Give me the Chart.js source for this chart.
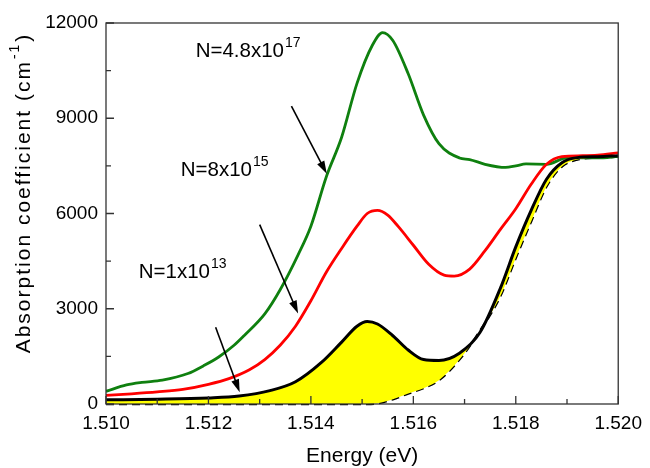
<!DOCTYPE html>
<html>
<head>
<meta charset="utf-8">
<script src="https://cdn.jsdelivr.net/npm/chart.js@4/dist/chart.umd.min.js"></script>
<style>
html,body{margin:0;padding:0;background:#fff}
#wrap{width:650px;height:468px}
</style>
</head>
<body>
<div id="wrap"><canvas id="absChart" width="650" height="468"></canvas></div>
<script>
// values
const energyBlack = [1.5100,1.5110,1.5120,1.5126,1.5132,1.5137,1.5142,1.5146,1.5149,1.5151,1.5153,1.5156,1.5159,1.5162,1.5165,1.5169,1.5173,1.5177,1.5180,1.5183,1.5186,1.5189,1.5192,1.5196,1.5200]
const absBlack = [130,150,190,250,420,700,1300,1950,2450,2600,2520,2150,1700,1400,1370,1600,2250,3650,4950,6100,7080,7600,7760,7790,7820]
const absBaseline = [0,0,0,0,0,0,0,0,0,0,20,150,330,500,750,1400,2300,3400,4600,5750,6850,7480,7700,7760,7790]

const energyRed = [1.5100,1.5105,1.5110,1.5115,1.5120,1.5124,1.5128,1.5131,1.5134,1.5137,1.5140,1.5143,1.5146,1.5149,1.5151,1.5153,1.5155,1.5157,1.5160,1.5163,1.5166,1.5168,1.5171,1.5174,1.5177,1.5180,1.5183,1.5186,1.5189,1.5193,1.5196,1.5200]
const absRed = [270,320,380,460,620,800,1080,1400,1850,2450,3250,4150,4900,5600,6000,6100,5950,5600,5000,4400,4060,4030,4250,4830,5500,6150,6920,7550,7790,7820,7840,7910]

const energyGreen = [1.5100,1.5104,1.5107,1.5111,1.5116,1.5119,1.5122,1.5125,1.5127,1.5131,1.5134,1.51375,1.5140,1.5143,1.5146,1.5149,1.5152,1.5154,1.5156,1.5159,1.5162,1.5165,1.5169,1.5171,1.5174,1.5178,1.5180,1.5182,1.5186,1.5190,1.5196,1.5200]
const absGreen = [400,600,680,750,960,1200,1480,1850,2160,2840,3600,4700,5600,7150,8400,10100,11300,11700,11450,10400,9100,8200,7750,7700,7550,7450,7500,7560,7550,7750,7750,7800]

const xTickValues = [1.510,1.512,1.514,1.516,1.518,1.520]
const yTickValues = [0,3000,6000,9000,12000]

// labels: text, exponent, left x / baseline y in data units
const labelTexts = ['N=4.8x10','N=8x10','N=1x10']
const labelExps = ['17','15','13']
const labelAt = [[1.51175,10930],[1.51146,7180],[1.51064,3960]]
// arrows: [x0,y0,x1,y1] in data units
const arrowAt = [
  [1.51362,9380,1.51431,7250],
  [1.51300,5650,1.51375,2850],
  [1.51214,2420,1.51261,370]
]

const FONT = '"Liberation Sans", Arial, sans-serif'

function pts(xs, ys){
  return xs.map((x,i)=>({x:x, y:ys[i]}))
}

function supText(ctx, x, y, base, sup, size){
  ctx.font = size + 'px ' + FONT
  ctx.fillText(base, x, y)
  const w = ctx.measureText(base).width
  ctx.font = Math.round(size*0.66) + 'px ' + FONT
  ctx.fillText(sup, x + w + 1, y - size*0.5)
}

const decor = {
  id:'decor',
  afterDatasetsDraw(chart){
    const ctx = chart.ctx
    const a = chart.chartArea
    const sx = chart.scales.x
    const sy = chart.scales.y
    ctx.save()

    // frame
    ctx.strokeStyle = '#333'
    ctx.lineWidth = 1.3
    ctx.strokeRect(a.left, a.top, a.right-a.left, a.bottom-a.top)

    // inward ticks, major + minor
    ctx.beginPath()
    for(let k=0;k<=10;k++){
      const px = sx.getPixelForValue(1.510 + k*0.001)
      const len = k%2===0 ? 8 : 5
      ctx.moveTo(px, a.bottom)
      ctx.lineTo(px, a.bottom-len)
    }
    for(let k=0;k<=8;k++){
      const py = sy.getPixelForValue(k*1500)
      const len = k%2===0 ? 8 : 5
      ctx.moveTo(a.left, py)
      ctx.lineTo(a.left+len, py)
    }
    ctx.stroke()

    // arrows
    ctx.strokeStyle = '#000'
    ctx.fillStyle = '#000'
    ctx.lineWidth = 1.6
    arrowAt.forEach(r=>{
      const x0 = sx.getPixelForValue(r[0]), y0 = sy.getPixelForValue(r[1])
      const x1 = sx.getPixelForValue(r[2]), y1 = sy.getPixelForValue(r[3])
      const ang = Math.atan2(y1-y0, x1-x0)
      const hl = 13, hw = 4
      ctx.beginPath()
      ctx.moveTo(x0,y0)
      ctx.lineTo(x1 - Math.cos(ang)*hl*0.8, y1 - Math.sin(ang)*hl*0.8)
      ctx.stroke()
      ctx.beginPath()
      ctx.moveTo(x1,y1)
      ctx.lineTo(x1 - Math.cos(ang)*hl - Math.sin(ang)*hw, y1 - Math.sin(ang)*hl + Math.cos(ang)*hw)
      ctx.lineTo(x1 - Math.cos(ang)*hl + Math.sin(ang)*hw, y1 - Math.sin(ang)*hl - Math.cos(ang)*hw)
      ctx.closePath()
      ctx.fill()
    })

    // N labels
    ctx.textAlign = 'left'
    ctx.textBaseline = 'alphabetic'
    labelTexts.forEach((t,i)=>{
      supText(ctx, sx.getPixelForValue(labelAt[i][0]), sy.getPixelForValue(labelAt[i][1]), t, labelExps[i], 20.5)
    })

    // axis titles
    ctx.font = '21px ' + FONT
    ctx.textAlign = 'center'
    ctx.textBaseline = 'middle'
    ctx.fillText('Energy (eV)', (a.left+a.right)/2, 456)

    ctx.save()
    ctx.translate(24, 193)
    ctx.rotate(-Math.PI/2)
    ctx.textAlign = 'left'
    ctx.textBaseline = 'middle'
    ctx.letterSpacing = '2px'
    ctx.font = '21px ' + FONT
    const base = 'Absorption coefficient (cm'
    const wBase = ctx.measureText(base).width
    ctx.font = '14px ' + FONT
    const wSup = ctx.measureText('-1').width
    ctx.font = '21px ' + FONT
    const wEnd = ctx.measureText(')').width
    let x0 = -(wBase + wSup + wEnd + 2)/2
    ctx.fillText(base, x0, 0)
    ctx.font = '14px ' + FONT
    ctx.fillText('-1', x0 + wBase + 1, -9)
    ctx.font = '21px ' + FONT
    ctx.fillText(')', x0 + wBase + wSup + 2, 0)
    ctx.restore()

    ctx.restore()
  }
}

const ctx = document.getElementById('absChart')

new Chart(ctx, {
  type:'line',
  data:{
    datasets:[
      {
        label:'N=1x10^13',
        data: pts(energyBlack, absBlack),
        borderColor:'#000',
        borderWidth:3,
        pointRadius:0,
        cubicInterpolationMode:'monotone',
        fill:{target:3, above:'#ffff00', below:'#ffff00'}
      },
      {
        label:'N=8x10^15',
        data: pts(energyRed, absRed),
        borderColor:'#ff0000',
        borderWidth:2.8,
        pointRadius:0,
        cubicInterpolationMode:'monotone',
        fill:false
      },
      {
        label:'N=4.8x10^17',
        data: pts(energyGreen, absGreen),
        borderColor:'#0f800f',
        borderWidth:2.8,
        pointRadius:0,
        cubicInterpolationMode:'monotone',
        fill:false
      },
      {
        label:'baseline',
        data: pts(energyBlack, absBaseline),
        borderColor:'#000',
        borderWidth:2.4,
        borderDash:[8,5],
        pointRadius:0,
        cubicInterpolationMode:'monotone',
        clip:4,
        fill:false
      }
    ]
  },
  options:{
    responsive:false,
    devicePixelRatio:1,
    animation:false,
    layout:{padding:{top:23,right:28,left:0,bottom:0}},
    plugins:{
      legend:{display:false},
      tooltip:{enabled:false}
    },
    scales:{
      x:{
        type:'linear',
        min:1.510,
        max:1.520,
        afterBuildTicks(scale){
          scale.ticks = xTickValues.map(v=>({value:v}))
        },
        afterFit(scale){ scale.height = 64 },
        grid:{display:false, drawTicks:false},
        border:{display:false},
        ticks:{
          autoSkip:false,
          maxRotation:0,
          padding:8,
          color:'#000',
          font:{family:FONT, size:19},
          callback:v=>v.toFixed(3)
        }
      },
      y:{
        min:0,
        max:12000,
        afterBuildTicks(scale){
          scale.ticks = yTickValues.map(v=>({value:v}))
        },
        afterFit(scale){ scale.width = 106 },
        grid:{display:false, drawTicks:false},
        border:{display:false},
        ticks:{
          padding:8,
          color:'#000',
          font:{family:FONT, size:19},
          callback:v=>String(v)
        }
      }
    }
  },
  plugins:[decor]
})
</script>
</body>
</html>
